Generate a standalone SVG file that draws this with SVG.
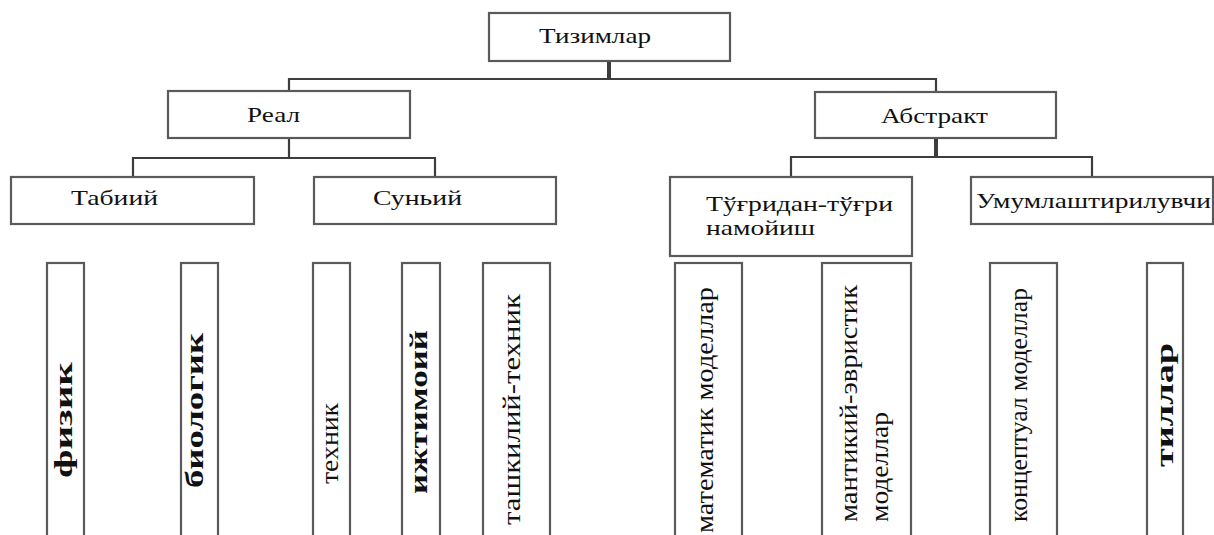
<svg xmlns="http://www.w3.org/2000/svg" width="1214" height="535" viewBox="0 0 1214 535">
<style>
.box{fill:#fff;stroke:#5a5a5a;stroke-width:2.2}
.lbl{font-family:"Liberation Serif","Times New Roman",serif;font-size:22px;fill:#111}
.vl{font-family:"Liberation Serif","Times New Roman",serif;font-size:26px;fill:#111}
.b{font-weight:bold}
.ln{stroke:#3d3d3d;stroke-width:2.2;fill:none}
.thick{stroke:#3d3d3d;stroke-width:4;fill:none}
</style>
<rect width="1214" height="535" fill="#fff"/>
<g id="connectors">
<line class="thick" x1="609" y1="61" x2="609" y2="79"/>
<polyline class="ln" points="289,91 289,79 936,79 936,92"/>
<line class="ln" x1="289" y1="138" x2="289" y2="158"/>
<polyline class="ln" points="133,177 133,158 435,158 435,177"/>
<line class="thick" x1="936" y1="138" x2="936" y2="157"/>
<polyline class="ln" points="791,177 791,157 1092,157 1092,177"/>
</g>
<g id="n-tizimlar"><rect class="box" x="489" y="13" width="241" height="48"/><text class="lbl" x="539" y="43" textLength="112" lengthAdjust="spacingAndGlyphs">Тизимлар</text></g>
<g id="n-real"><rect class="box" x="168" y="91" width="242" height="47"/><text class="lbl" x="247" y="122" textLength="53" lengthAdjust="spacingAndGlyphs">Реал</text></g>
<g id="n-abstrakt"><rect class="box" x="815" y="92" width="241" height="46"/><text class="lbl" x="881" y="123" textLength="107" lengthAdjust="spacingAndGlyphs">Абстракт</text></g>
<g id="n-tabiiy"><rect class="box" x="11" y="177" width="243" height="47"/><text class="lbl" x="71" y="205" textLength="87" lengthAdjust="spacingAndGlyphs">Табиий</text></g>
<g id="n-sunyiy"><rect class="box" x="314" y="177" width="242" height="47"/><text class="lbl" x="373" y="205" textLength="89" lengthAdjust="spacingAndGlyphs">Суньий</text></g>
<g id="n-tugridan"><rect class="box" x="670" y="177" width="242" height="79"/><text class="lbl" x="706" y="211" textLength="187" lengthAdjust="spacingAndGlyphs">Тўғридан-тўғри</text><text class="lbl" x="706" y="235" textLength="109" lengthAdjust="spacingAndGlyphs">намойиш</text></g>
<g id="n-umumlash"><rect class="box" x="971" y="177" width="242" height="47"/><text class="lbl" x="976" y="208" textLength="235" lengthAdjust="spacingAndGlyphs">Умумлаштирилувчи</text></g>
<g id="n-fizik"><rect class="box" x="47" y="263" width="37" height="290"/><text class="vl b" transform="translate(72,478) rotate(-90)" textLength="116" lengthAdjust="spacingAndGlyphs">физик</text></g>
<g id="n-biologik"><rect class="box" x="181" y="263" width="37" height="290"/><text class="vl b" transform="translate(203,488) rotate(-90)" textLength="155" lengthAdjust="spacingAndGlyphs">биологик</text></g>
<g id="n-texnik"><rect class="box" x="313" y="263" width="37" height="290"/><text class="vl" transform="translate(338,484) rotate(-90)" textLength="81" lengthAdjust="spacingAndGlyphs">техник</text></g>
<g id="n-ijtimoiy"><rect class="box" x="402" y="263" width="38" height="290"/><text class="vl b" transform="translate(427,494) rotate(-90)" textLength="164" lengthAdjust="spacingAndGlyphs">ижтимоий</text></g>
<g id="n-tashkiliy"><rect class="box" x="483" y="263" width="67" height="290"/><text class="vl" transform="translate(520,525) rotate(-90)" textLength="231" lengthAdjust="spacingAndGlyphs">ташкилий-техник</text></g>
<g id="n-matematik"><rect class="box" x="675" y="263" width="67" height="290"/><text class="vl" transform="translate(713,533) rotate(-90)" textLength="246" lengthAdjust="spacingAndGlyphs">математик моделлар</text></g>
<g id="n-mantikiy"><rect class="box" x="822" y="263" width="89" height="290"/><text class="vl" transform="translate(857,522) rotate(-90)" textLength="237" lengthAdjust="spacingAndGlyphs">мантикий-эвристик</text><text class="vl" transform="translate(888,522) rotate(-90)" textLength="110" lengthAdjust="spacingAndGlyphs">моделлар</text></g>
<g id="n-konseptual"><rect class="box" x="990" y="263" width="67" height="290"/><text class="vl" transform="translate(1027,522) rotate(-90)" textLength="234" lengthAdjust="spacingAndGlyphs">концептуал моделлар</text></g>
<g id="n-tillar"><rect class="box" x="1147" y="263" width="36" height="290"/><text class="vl b" transform="translate(1173,467) rotate(-90)" textLength="124" lengthAdjust="spacingAndGlyphs">тиллар</text></g>
</svg>
